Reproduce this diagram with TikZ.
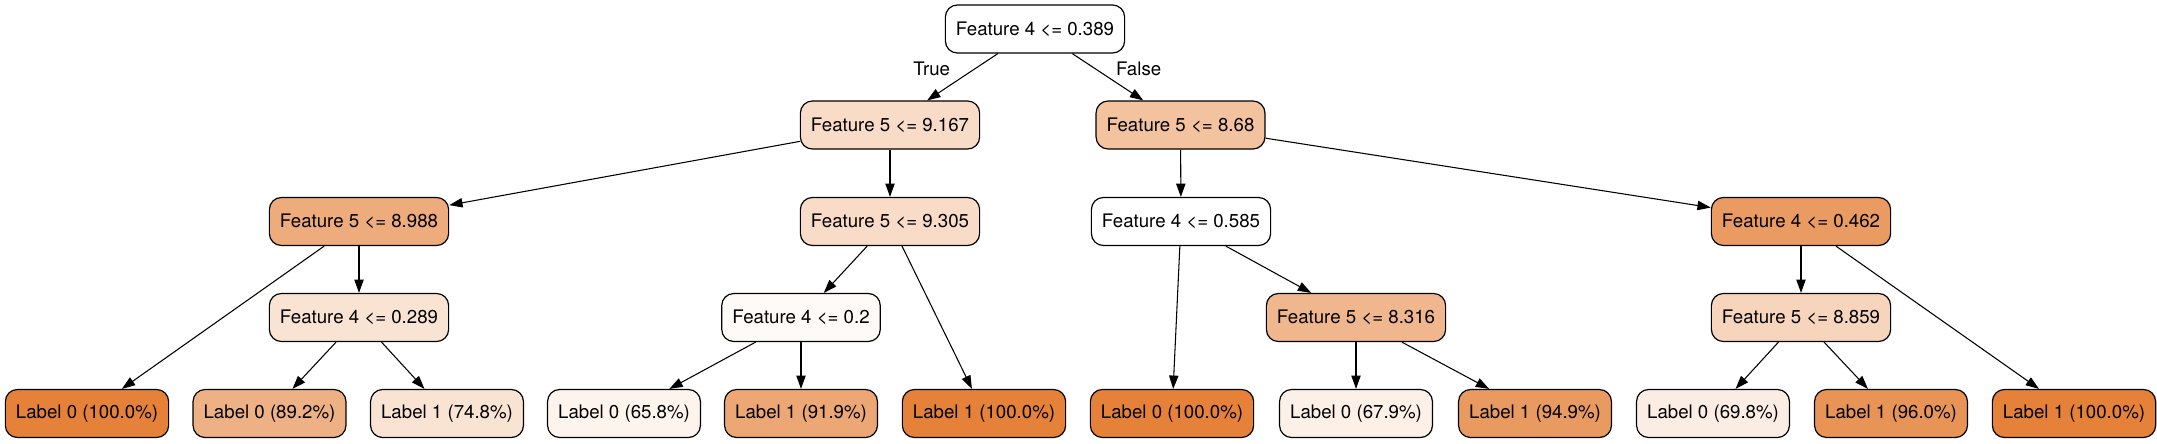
\documentclass[tikz,border=0pt]{standalone}
\usepackage{fontspec}
\setmainfont{TeX Gyre Heros}
\usetikzlibrary{arrows.meta,positioning}
\definecolor{w100}{HTML}{FFFFFF}
\definecolor{c100}{HTML}{E58139}
\definecolor{cA}{HTML}{F8DCC8}
\definecolor{cB}{HTML}{F3C3A0}
\definecolor{cC}{HTML}{EEAC7C}
\definecolor{cD}{HTML}{EA9B62}
\definecolor{cE}{HTML}{F9E3D3}
\definecolor{cF}{HTML}{FEFAF7}
\definecolor{cG}{HTML}{F0B78E}
\definecolor{cH}{HTML}{F6D5BC}
\definecolor{cI}{HTML}{EEB185}
\definecolor{cJ}{HTML}{FDF4EE}
\definecolor{cK}{HTML}{EDA774}
\definecolor{cL}{HTML}{FCF0E7}
\definecolor{cM}{HTML}{E99A60}
\definecolor{cN}{HTML}{FBEDE3}
\definecolor{cO}{HTML}{E89457}

\begin{document}
\begin{tikzpicture}[x=0.75pt, y=-0.75pt, >={Triangle[length=10pt,width=7pt]},
  box/.style={draw, line width=0.9pt, rounded corners=9pt, minimum height=36pt, inner xsep=7.92pt, inner ysep=0pt, font=\fontsize{14pt}{16pt}\selectfont},
  lbl/.style={inner sep=0pt, font=\fontsize{14pt}{16pt}\selectfont},
  edge/.style={->, line width=0.8pt}]
  \useasboundingbox (0,0) rectangle (2157,443);
  \node[box, fill=w100] (root) at (1035,29) {Feature 4 <= 0.389};
  \node[box, fill=cA] (l) at (890,125) {Feature 5 <= 9.167};
  \node[box, fill=cB] (r) at (1180.5,125) {Feature 5 <= 8.68};
  \node[box, fill=cC] (ll) at (359,221.5) {Feature 5 <= 8.988};
  \node[box, fill=cA] (lr) at (890,221.5) {Feature 5 <= 9.305};
  \node[box, fill=w100] (rl) at (1181,221.5) {Feature 4 <= 0.585};
  \node[box, fill=cD] (rr) at (1801,221.5) {Feature 4 <= 0.462};
  \node[box, fill=cE] (llr) at (359,317.5) {Feature 4 <= 0.289};
  \node[box, fill=cF] (lrl) at (801,317.5) {Feature 4 <= 0.2};
  \node[box, fill=cG] (rlr) at (1356,317.5) {Feature 5 <= 8.316};
  \node[box, fill=cH] (rrl) at (1801,317.5) {Feature 5 <= 8.859};
  \node[box, fill=c100] (lll) at (87,413.5) {Label 0 (100.0\%)};
  \node[box, fill=cI] (llrl) at (269.5,413.5) {Label 0 (89.2\%)};
  \node[box, fill=cE] (llrr) at (447,413.5) {Label 1 (74.8\%)};
  \node[box, fill=cJ] (lrll) at (624,413.5) {Label 0 (65.8\%)};
  \node[box, fill=cK] (lrlr) at (801,413.5) {Label 1 (91.9\%)};
  \node[box, fill=c100] (lrr) at (984,413.5) {Label 1 (100.0\%)};
  \node[box, fill=c100] (rll) at (1172,413.5) {Label 0 (100.0\%)};
  \node[box, fill=cL] (rlrl) at (1356,413.5) {Label 0 (67.9\%)};
  \node[box, fill=cM] (rlrr) at (1535,413.5) {Label 1 (94.9\%)};
  \node[box, fill=cN] (rrll) at (1713,413.5) {Label 0 (69.8\%)};
  \node[box, fill=cO] (rrlr) at (1891,413.5) {Label 1 (96.0\%)};
  \node[box, fill=c100] (rrr) at (2074,413.5) {Label 1 (100.0\%)};
  \draw[edge] (root) -- node[lbl, pos=0.33, left=18pt]{True} (l);
  \draw[edge] (root) -- node[lbl, pos=0.33, right=15pt]{False} (r);
  \draw[edge] (l) -- (ll); \draw[edge] (l) -- (lr); \draw[edge] (r) -- (rl); \draw[edge] (r) -- (rr);
  \draw[edge] (ll) -- (lll); \draw[edge] (ll) -- (llr); \draw[edge] (llr) -- (llrl); \draw[edge] (llr) -- (llrr);
  \draw[edge] (lr) -- (lrl); \draw[edge] (lr) -- (lrr); \draw[edge] (lrl) -- (lrll); \draw[edge] (lrl) -- (lrlr);
  \draw[edge] (rl) -- (rll); \draw[edge] (rl) -- (rlr); \draw[edge] (rlr) -- (rlrl); \draw[edge] (rlr) -- (rlrr);
  \draw[edge] (rr) -- (rrl); \draw[edge] (rr) -- (rrr); \draw[edge] (rrl) -- (rrll); \draw[edge] (rrl) -- (rrlr);
\end{tikzpicture}
\end{document}
